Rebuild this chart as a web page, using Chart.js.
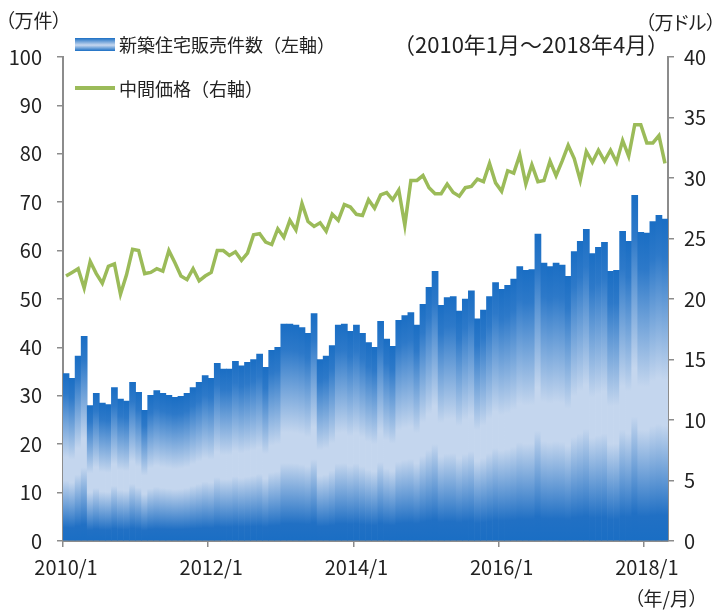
<!DOCTYPE html>
<html>
<head>
<meta charset="UTF-8">
<title>新築住宅販売件数と中間価格</title>
<script src="https://cdn.jsdelivr.net/npm/chart.js"></script>
<style>
body{margin:0; background:#fff;}
#wrap{position:relative; width:718px; height:610px; font-family:"Noto Sans CJK JP", sans-serif; color:#222;}
#wrap canvas{position:absolute; left:0; top:0;}
.lbl{position:absolute; white-space:nowrap; line-height:1;}
.palt{font-feature-settings:"palt";}
.sw-bar{position:absolute; left:75px; top:38px; width:40px; height:13px;
  background:linear-gradient(#1b6fc4, #c7d8ef 55%, #1b6fc4);}
.sw-line{position:absolute; left:75px; top:86px; width:40px; height:4px; background:#9bbb59;}
</style>
</head>
<body>
<div id="wrap">
  <canvas id="myChart" width="718" height="610"></canvas>
  <div class="lbl palt" style="left:5px; top:10px; font-size:19px;">（万件）</div>
  <div class="lbl palt" style="left:645px; top:12px; font-size:19px;">（万ドル）</div>
  <div class="lbl" style="left:393px; top:32px; font-size:22px;">（2010年1月～2018年4月）</div>
  <div class="sw-bar"></div>
  <div class="lbl" style="left:119px; top:35px; font-size:18px;">新築住宅販売件数（左軸）</div>
  <div class="sw-line"></div>
  <div class="lbl" style="left:119px; top:79px; font-size:18px;">中間価格（右軸）</div>
  <div class="lbl palt" style="left:634px; top:588px; font-size:19px;">（年/月）</div>
</div>
<script>
// 月ラベル 2010/1 ～ 2018/4
var months = [];
for (var yy = 2010; yy <= 2018; yy++) {
	for (var mm = 1; mm <= 12; mm++) {
		if (yy == 2018 && mm > 4) break;
		months.push(yy + '/' + mm);
	}
}

// 新築住宅販売件数（万件, 左軸）
var sales = [
	34.6, 33.6, 38.2, 42.3, 28.0, 30.5, 28.5, 28.2, 31.7, 29.3, 28.9, 32.8,
	30.7, 27.0, 30.1, 31.1, 30.5, 30.1, 29.7, 29.9, 30.5, 31.7, 32.8, 34.2,
	33.6, 36.7, 35.5, 35.5, 37.1, 36.2, 36.9, 37.5, 38.6, 35.9, 39.4, 40.0,
	44.8, 44.8, 44.6, 44.1, 42.9, 47.0, 37.5, 38.2, 40.4, 44.6, 44.8, 43.3,
	44.6, 42.9, 41.0, 40.0, 45.4, 41.7, 40.2, 45.6, 46.6, 47.2, 44.6, 48.9,
	52.4, 55.7, 48.7, 50.3, 50.5, 47.5, 50.0, 51.7, 45.9, 47.7, 50.5, 53.4,
	52.0, 52.8, 54.1, 56.7, 55.9, 56.1, 63.4, 57.4, 56.7, 57.4, 57.0, 54.7,
	59.8, 61.9, 64.4, 59.4, 60.7, 61.7, 55.7, 55.9, 64.0, 61.9, 71.4, 63.8,
	63.6, 66.0, 67.3, 66.5
];

// 中間価格（万ドル, 右軸）
var price = [
	21.9, 22.2, 22.5, 20.9, 23.1, 22.1, 21.3, 22.7, 22.9, 20.4, 22.0, 24.1,
	24.0, 22.1, 22.2, 22.5, 22.3, 24.0, 23.0, 21.9, 21.6, 22.5, 21.5, 21.9,
	22.2, 24.0, 24.0, 23.6, 23.9, 23.2, 23.8, 25.3, 25.4, 24.7, 24.5, 25.8,
	25.1, 26.5, 25.7, 27.9, 26.4, 26.0, 26.3, 25.6, 27.0, 26.5, 27.8, 27.6,
	27.0, 26.9, 28.2, 27.5, 28.6, 28.8, 28.2, 29.0, 26.1, 29.8, 29.8, 30.2,
	29.2, 28.7, 28.7, 29.5, 28.8, 28.5, 29.2, 29.3, 29.9, 29.7, 31.2, 29.6,
	28.9, 30.6, 30.4, 31.9, 29.5, 31.1, 29.7, 29.8, 31.4, 30.2, 31.4, 32.7,
	31.6, 29.8, 32.2, 31.3, 32.3, 31.4, 32.3, 31.3, 33.1, 31.8, 34.4, 34.4,
	32.9, 32.9, 33.5, 31.2
];

var xTickLabels = ['2010/1', '2012/1', '2014/1', '2016/1', '2018/1'];
var axisGray = '#8c8c8c';

// 棒ごとの縦グラデーション（上下が濃い青、中央が淡い青）
function barFill(c) {
	var chart = c.chart;
	if (!chart.chartArea || c.raw == null) return '#1b6fc4';
	var ys = chart.scales.y;
	var top = ys.getPixelForValue(c.raw);
	var bottom = ys.getPixelForValue(0);
	var g = chart.ctx.createLinearGradient(0, top, 0, bottom);
	g.addColorStop(0, '#1a6ec4');
	g.addColorStop(0.12, '#2d79c9');
	g.addColorStop(0.5, '#c4d6ee');
	g.addColorStop(0.64, '#c4d6ee');
	g.addColorStop(0.92, '#2170c4');
	g.addColorStop(1, '#1a6ec4');
	return g;
}

var ctx = document.getElementById('myChart');
new Chart(ctx, {
	type: 'bar',
	data: {
		labels: months,
		datasets: [{
			type: 'line',
			label: '中間価格（右軸）',
			data: price,
			yAxisID: 'y1',
			borderColor: '#9bbb59',
			borderWidth: 3.5,
			pointRadius: 0,
			tension: 0,
			order: 0
		}, {
			label: '新築住宅販売件数（左軸）',
			data: sales,
			yAxisID: 'y',
			backgroundColor: barFill,
			borderWidth: 0,
			barPercentage: 1,
			categoryPercentage: 1,
			order: 1
		}]
	},
	options: {
		responsive: false,
		animation: false,
		layout: { padding: { top: 57, left: 0, right: 0, bottom: 0 } },
		plugins: {
			legend: { display: false },
			tooltip: { enabled: false }
		},
		scales: {
			x: {
				offset: true,
				grid: {
					offset: true,
					drawOnChartArea: false,
					tickLength: 6,
					lineWidth: 1.5,
					color: function(c) { return c.index % 24 === 0 ? axisGray : 'rgba(0,0,0,0)'; }
				},
				border: { color: axisGray, width: 2 },
				ticks: {
					autoSkip: false,
					maxRotation: 0,
					padding: 8,
					color: '#222',
					font: { size: 20, family: '"Noto Sans CJK JP", sans-serif' },
					callback: function(v) {
						var l = this.getLabelForValue(v);
						return xTickLabels.indexOf(l) >= 0 ? l : '';
					}
				},
				afterFit: function(s) { s.height = 69; }
			},
			y: {
				position: 'left',
				min: 0,
				max: 100,
				grid: { drawOnChartArea: false, tickLength: 6, lineWidth: 1.5, color: axisGray },
				border: { color: axisGray, width: 2 },
				ticks: {
					stepSize: 10,
					padding: 15,
					color: '#222',
					font: { size: 20, family: '"Noto Sans CJK JP", sans-serif' }
				},
				afterFit: function(s) { s.width = 63; }
			},
			y1: {
				position: 'right',
				min: 0,
				max: 40,
				grid: { drawOnChartArea: false, tickLength: 6, lineWidth: 1.5, color: axisGray },
				border: { color: axisGray, width: 2 },
				ticks: {
					stepSize: 5,
					padding: 10,
					color: '#222',
					font: { size: 20, family: '"Noto Sans CJK JP", sans-serif' }
				},
				afterFit: function(s) { s.width = 50; }
			}
		}
	}
});
</script>
</body>
</html>
